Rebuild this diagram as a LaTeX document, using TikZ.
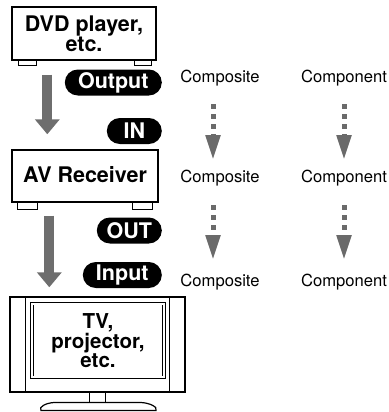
\documentclass[tikz,border=0pt]{standalone}
\usepackage{fontspec}
\setmainfont{TeX Gyre Heros}
\usepackage{tikz}
\usetikzlibrary{arrows.meta, calc}
\definecolor{flowgray}{HTML}{6E6E6E}
\definecolor{dotgray}{HTML}{6A6A6A}
\tikzset{
  device/.style={
    rectangle, draw=black, line width=1.4pt, fill=white, align=center,
    inner sep=0pt, font=\fontsize{21.5}{19}\selectfont\bfseries
  },
  foot/.style={draw=black, line width=1.3pt, fill=white},
  screen/.style={
    rectangle, draw=black, line width=0.8pt, double, double distance=1.6pt,
    align=center, inner sep=0pt, font=\fontsize{20.5}{18.5}\selectfont\bfseries
  },
  tag/.style={
    rectangle, rounded corners=13pt, fill=black, text=white,
    minimum height=26pt, inner sep=0pt, anchor=east,
    font=\fontsize{21.5}{21.5}\selectfont\bfseries
  },
  sigtext/.style={inner sep=0pt, font=\fontsize{16.6}{16.6}\selectfont},
  flowarrow/.style={flowgray, line width=10pt, -{Triangle[length=15pt, width=24pt]}},
  dotarrow/.style={dotgray, line width=5pt, dash pattern=on 5pt off 5pt,
    -{Triangle[length=25pt, width=14pt]}}
}

\begin{document}
\begin{tikzpicture}[x=1pt, y=-1pt]
\useasboundingbox (0,0) rectangle (388,412);

% ── Devices ──────────────────────────────────────────────────────────────────
\node[device, minimum width=144pt, minimum height=53pt] (dvd) at (84,33.5)
  {DVD player,\\etc.};
\draw[foot] ($(dvd.south west)+(7,0)$) rectangle ++(18,5);
\draw[foot] ($(dvd.south east)+(-22,0)$) rectangle ++(17,5);

\node[device, minimum width=146pt, minimum height=52pt] (avr) at (85,176)
  {AV Receiver\rule[-4pt]{0pt}{4pt}};
\draw[foot] ($(avr.south west)+(6,0)$) rectangle ++(20,7);
\draw[foot] ($(avr.south east)+(-26,0)$) rectangle ++(20,7);

\node[device, minimum width=175pt, minimum height=95pt] (tv) at (97.5,344.5) {};
\draw[line width=0.8pt] ([xshift=16pt]tv.north west) -- ([xshift=16pt]tv.south west);
\draw[line width=0.8pt] ([xshift=-16pt]tv.north east) -- ([xshift=-16pt]tv.south east);
\node[screen, minimum width=132pt, minimum height=73.5pt] (scr) at (98,340.5)
  {TV,\\projector,\\etc.};
\draw[foot] ($(tv.south)+(-8,0)$) rectangle ++(16,10);
\draw[line width=1.2pt, fill=white] (54,402.5) -- (141,402.5)
  .. controls (150,403) and (158,407) .. (156,410.5) -- (41,410.5)
  .. controls (38,407) and (46,403) .. (54,402.5) -- cycle;

% ── Connection tags ──────────────────────────────────────────────────────────
\node[tag, minimum width=97pt] (output) at (162,82.5) {Output};
\node[tag, minimum width=55pt] (in) at (162,131) {IN};
\node[tag, minimum width=65pt] (out) at (162,230.5) {OUT};
\node[tag, minimum width=79pt] (input) at (162,275) {Input};

% ── Signal flow ──────────────────────────────────────────────────────────────
\draw[flowarrow] ([xshift=36pt,yshift=-14pt]dvd.south west) -- ([xshift=36pt,yshift=15pt]avr.north west);
\draw[flowarrow] ([xshift=38pt,yshift=-13pt]avr.south west) -- ([xshift=40pt,yshift=9pt]tv.north west);

% ── Video signal types ───────────────────────────────────────────────────────
\node[sigtext] (c1) at (220,78) {Composite};
\node[sigtext] (c2) at (220,178) {Composite};
\node[sigtext] (c3) at (220,282) {Composite};
\node[sigtext] (k1) at (344,78) {Component};
\node[sigtext] (k2) at (344,178) {Component};
\node[sigtext] (k3) at (344,282) {Component};

\draw[dotarrow] ([xshift=-7pt,yshift=-26pt]c1.center) -- ([xshift=-7pt,yshift=18pt]c2.center);
\draw[dotarrow] ([xshift=-7pt,yshift=-27pt]c2.center) -- ([xshift=-7pt,yshift=22pt]c3.center);
\draw[dotarrow] ([yshift=-26pt]k1.center) -- ([yshift=18pt]k2.center);
\draw[dotarrow] ([yshift=-27pt]k2.center) -- ([yshift=22pt]k3.center);

\end{tikzpicture}
\end{document}
